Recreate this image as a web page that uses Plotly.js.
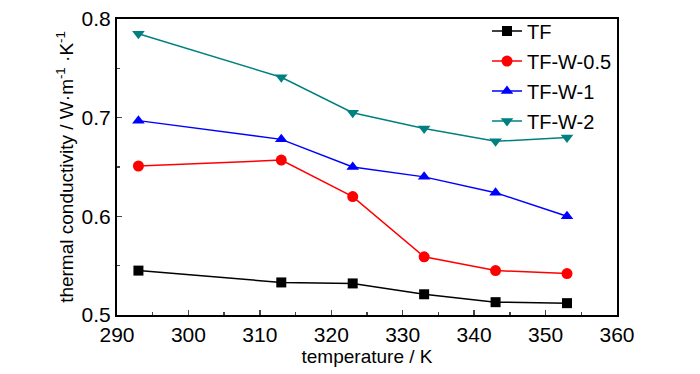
<!DOCTYPE html>
<html>
<head>
<meta charset="utf-8">
<script src="https://cdn.plot.ly/plotly-3.0.1.min.js"></script>
<style>html,body{margin:0;padding:0;background:#fff;}#chart{width:700px;height:374px;}</style>
</head>
<body>
<div id="chart"></div>
<script>
var temperature = [293, 313, 323, 333, 343, 353];
var seriesNames = ["TF", "TF-W-0.5", "TF-W-1", "TF-W-2"];
var tf = [0.545, 0.533, 0.532, 0.521, 0.513, 0.512];
var tfW05 = [0.651, 0.657, 0.620, 0.559, 0.545, 0.542];
var tfW1 = [0.697, 0.678, 0.650, 0.640, 0.624, 0.600];
var tfW2 = [0.785, 0.741, 0.705, 0.689, 0.676, 0.680];
var colors = ["#000000", "#ff0000", "#0000ff", "#008080"];
var symbols = ["square", "circle", "triangle-up", "triangle-down"];
var values = [tf, tfW05, tfW1, tfW2];

var traces = values.map(function(v, i) {
  return {
    x: temperature, y: v, name: seriesNames[i], type: "scatter", mode: "lines+markers",
    legendgroup: "g" + i,
    line: {color: colors[i], width: 1.5},
    marker: {symbol: symbols[i], size: i === 0 ? 10 : 11, color: colors[i]}
  };
});

var fontFam = "Liberation Sans, Arial, sans-serif";
var layout = {
  width: 700, height: 374,
  margin: {l: 117, r: 83, t: 16, b: 59},
  paper_bgcolor: "#fff", plot_bgcolor: "#fff",
  font: {family: fontFam, color: "#000", size: 20},
  showlegend: true,
  legend: {x: 1, xanchor: "right", y: 1.025, yanchor: "top", bgcolor: "rgba(0,0,0,0)",
           font: {size: 20, family: fontFam}, tracegroupgap: 1},
  xaxis: {
    range: [290, 360], dtick: 10, tick0: 290, ticks: "inside", ticklen: 5, tickwidth: 1.5,
    minor: {dtick: 5, ticks: "inside", ticklen: 3, tickwidth: 1.5},
    showline: true, linewidth: 2, linecolor: "#000", mirror: true, showgrid: false, zeroline: false,
    tickfont: {size: 21}, title: {text: "temperature / K", font: {size: 19}, standoff: 1}
  },
  yaxis: {
    range: [0.5, 0.8], dtick: 0.1, tick0: 0.5, tickformat: ".1f", ticks: "inside", ticklen: 5, tickwidth: 1.5,
    minor: {dtick: 0.05, ticks: "inside", ticklen: 3, tickwidth: 1.5},
    showline: true, linewidth: 2, linecolor: "#000", mirror: true, showgrid: false, zeroline: false,
    tickfont: {size: 21},
    title: {text: "thermal conductivity / W·m<sup>-1</sup> ·K<sup>-1</sup>", font: {size: 19}, standoff: 3}
  }
};
Plotly.newPlot("chart", traces, layout, {displayModeBar: false, staticPlot: true});
</script>
</body>
</html>
